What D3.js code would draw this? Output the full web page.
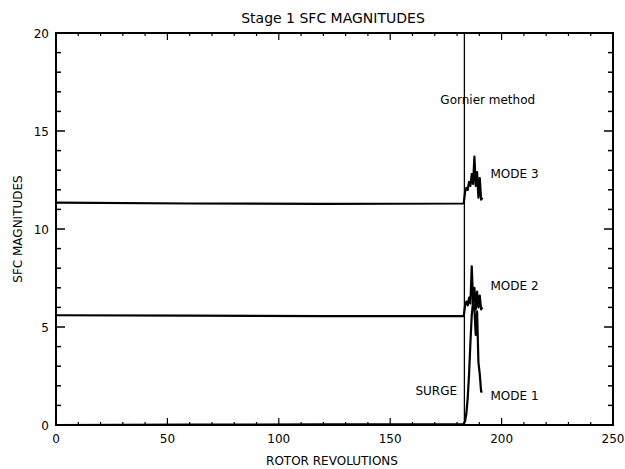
<!DOCTYPE html>
<html>
<head>
<meta charset="utf-8">
<script src="https://cdn.jsdelivr.net/npm/d3@7"></script>
<style>
  body { margin: 0; background: #fff; }
  text { font-family: "DejaVu Sans", sans-serif; fill: #000; }
</style>
</head>
<body>
<svg id="chart"></svg>
<script>
// data
var revs  = [0, 60, 120, 183, 183.6, 184.2, 184.8, 185.4, 186.0, 186.6, 187.2, 187.8, 188.4, 189.0, 189.6, 190.2, 190.8, 191.4];
var mode3 = [11.35, 11.3, 11.28, 11.3, 11.9, 12.1, 12.0, 12.4, 12.2, 12.8, 12.3, 13.7, 12.2, 12.9, 11.6, 12.6, 11.5, 11.6];
var mode2 = [5.6, 5.58, 5.55, 5.55, 6.1, 6.3, 6.1, 6.5, 6.2, 8.1, 6.3, 7.0, 5.9, 6.8, 6.0, 6.6, 5.9, 6.0];
var mode1 = [0, 0.02, 0.03, 0.05, 0.2, 0.6, 1.4, 2.6, 4.2, 5.6, 6.3, 5.9, 4.6, 5.8, 3.2, 2.6, 1.7, 1.7];
var markerRev = 183.3;
var xTicks = [0, 50, 100, 150, 200, 250];
var yTicks = [0, 5, 10, 15, 20];
var labels = [
  { text: 'MODE 3', x: 195, y: 12.8 },
  { text: 'MODE 2', x: 195, y: 7.1 },
  { text: 'MODE 1', x: 195, y: 1.5 },
];

var config = { width: 625, height: 469 };
var margin = { top: 33, right: 12, bottom: 44, left: 56 },
  width = config.width - margin.left - margin.right,
  height = config.height - margin.top - margin.bottom;

var svg = d3.select('#chart')
  .attr('width', config.width)
  .attr('height', config.height);

var g = svg.append('g')
  .attr('transform', 'translate(' + margin.left + ',' + margin.top + ')');

var x = d3.scaleLinear().domain([0, 250]).range([0, width]);
var y = d3.scaleLinear().domain([0, 20]).range([height, 0]);

// minor ticks every 1 on y, major every 5
var yMinor = d3.range(0, 21);
g.selectAll('.ymin').data(yMinor).enter().append('g').each(function(d) {
  var len = d % 5 === 0 ? 9 : 5;
  d3.select(this).append('line')
    .attr('x1', 0).attr('x2', len).attr('y1', y(d)).attr('y2', y(d));
  d3.select(this).append('line')
    .attr('x1', width).attr('x2', width - len).attr('y1', y(d)).attr('y2', y(d));
}).selectAll('line').attr('stroke', '#000').attr('stroke-width', 1.5);

// x ticks: majors every 50, small minors every 10
var xMinor = d3.range(0, 251, 10);
g.selectAll('.xmin').data(xMinor).enter().append('g').each(function(d) {
  var len = d % 50 === 0 ? 7 : 3;
  d3.select(this).append('line')
    .attr('x1', x(d)).attr('x2', x(d)).attr('y1', height).attr('y2', height - len);
  d3.select(this).append('line')
    .attr('x1', x(d)).attr('x2', x(d)).attr('y1', 0).attr('y2', len);
}).selectAll('line').attr('stroke', '#000').attr('stroke-width', 1.2);

// frame
g.append('rect')
  .attr('width', width).attr('height', height)
  .attr('fill', 'none').attr('stroke', '#000').attr('stroke-width', 2);

// tick labels
g.selectAll('.xl').data(xTicks).enter().append('text')
  .attr('x', function(d) { return x(d); })
  .attr('y', height + 18)
  .attr('text-anchor', 'middle')
  .style('font-size', '12px')
  .text(function(d) { return d; });

g.selectAll('.yl').data(yTicks).enter().append('text')
  .attr('x', -7)
  .attr('y', function(d) { return y(d) + 5; })
  .attr('text-anchor', 'end')
  .style('font-size', '12px')
  .text(function(d) { return d; });

// marker line
g.append('line')
  .attr('x1', x(markerRev)).attr('x2', x(markerRev))
  .attr('y1', 0).attr('y2', height)
  .attr('stroke', '#000').attr('stroke-width', 1.3);

// series
var line = d3.line()
  .x(function(d, i) { return x(revs[i]); })
  .y(function(d) { return y(d); });

[mode3, mode2, mode1].forEach(function(s) {
  g.append('path')
    .datum(s)
    .attr('d', line)
    .attr('fill', 'none')
    .attr('stroke', '#000')
    .attr('stroke-width', 2.2)
    .attr('stroke-linejoin', 'round');
});

// annotations
g.selectAll('.ml').data(labels).enter().append('text')
  .attr('x', function(d) { return x(d.x); })
  .attr('y', function(d) { return y(d.y) + 4; })
  .style('font-size', '12px')
  .text(function(d) { return d.text; });

g.append('text')
  .attr('x', x(172.5)).attr('y', y(16.4))
  .style('font-size', '12px')
  .text('Gornier method');

g.append('text')
  .attr('x', x(180)).attr('y', y(1.55))
  .attr('text-anchor', 'end')
  .style('font-size', '12px')
  .text('SURGE');

// titles
svg.append('text')
  .attr('x', 333).attr('y', 23)
  .attr('text-anchor', 'middle')
  .style('font-size', '14px')
  .text('Stage 1 SFC MAGNITUDES');

svg.append('text')
  .attr('x', 332).attr('y', 465)
  .attr('text-anchor', 'middle')
  .style('font-size', '12px')
  .text('ROTOR REVOLUTIONS');

svg.append('text')
  .attr('transform', 'translate(22,' + (margin.top + y(10)) + ') rotate(-90)')
  .attr('text-anchor', 'middle')
  .style('font-size', '12px')
  .text('SFC MAGNITUDES');
</script>
</body>
</html>
